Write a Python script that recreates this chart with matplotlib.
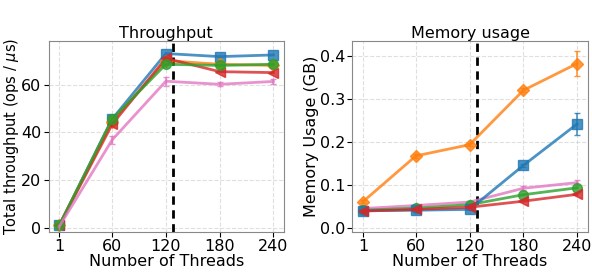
import matplotlib
matplotlib.use('Agg')
import matplotlib.pyplot as plt

threads = [1, 60, 120, 180, 240]
cores = 128

# throughput (ops / us)
tp_blue = [1.0, 45.5, 73.0, 71.7, 72.4]
tp_orange = [1.0, 44.5, 70.0, 68.5, 68.0]
tp_green = [1.0, 45.5, 68.5, 68.0, 68.5]
tp_red = [1.0, 43.3, 71.0, 65.4, 65.0]
tp_pink = [0.5, 36.8, 61.4, 60.1, 61.3]
tp_pink_err = [0.3, 1.5, 1.8, 0.9, 1.0]

# memory usage (GB)
mem_blue = [0.041, 0.042, 0.044, 0.146, 0.242]
mem_blue_err = [0.002, 0.002, 0.002, 0.004, 0.025]
mem_orange = [0.062, 0.168, 0.194, 0.320, 0.382]
mem_orange_err = [0.003, 0.004, 0.004, 0.005, 0.030]
mem_green = [0.042, 0.047, 0.055, 0.078, 0.094]
mem_red = [0.040, 0.044, 0.049, 0.063, 0.079]
mem_pink = [0.046, 0.053, 0.061, 0.093, 0.106]
mem_pink_err = [0.002, 0.002, 0.003, 0.005, 0.006]

plt.rcParams['font.size'] = 11.5
plt.rcParams['xtick.labelsize'] = 11.5
plt.rcParams['ytick.labelsize'] = 11.5

fig, (ax1, ax2) = plt.subplots(1, 2, figsize=(5.92, 2.74), dpi=100)
fig.subplots_adjust(left=0.082, right=0.993, top=0.85, bottom=0.153, wspace=0.29)

style = dict(linewidth=2, alpha=0.8, capsize=2, elinewidth=1.2)

# --- throughput ---
ax1.errorbar(threads, tp_blue, color='C0', marker='s', markersize=7, **style)
ax1.errorbar(threads, tp_orange, color='C1', marker='D', markersize=6, **style)
ax1.errorbar(threads, tp_red, color='C3', marker='<', markersize=7, **style)
ax1.errorbar(threads, tp_green, color='C2', marker='o', markersize=7, **style)
ax1.errorbar(threads, tp_pink, yerr=tp_pink_err, color='C6', marker='|', markersize=4, **style)
ax1.axvline(cores, color='black', linestyle=(0, (3, 2)), linewidth=2)
ax1.set_title('Throughput', pad=2, fontsize=11.5)
ax1.set_xlabel('Number of Threads', labelpad=0)
ax1.set_ylabel('Total throughput (ops / $\\mu$s)', labelpad=0, fontsize=10.5)
ax1.set_xticks(threads)
ax1.set_yticks([0, 20, 40, 60])
ax1.set_ylim(-1.8, 78.2)
ax1.grid(linestyle='--', alpha=0.4)

# --- memory ---
ax2.errorbar(threads, mem_orange, yerr=mem_orange_err, color='C1', marker='D', markersize=6, **style)
ax2.errorbar(threads, mem_pink, yerr=mem_pink_err, color='C6', marker='|', markersize=4, **style)
ax2.errorbar(threads, mem_green, color='C2', marker='o', markersize=7, **style)
ax2.errorbar(threads, mem_blue, yerr=mem_blue_err, color='C0', marker='s', markersize=7, **style)
ax2.errorbar(threads, mem_red, color='C3', marker='<', markersize=7, **style)
ax2.axvline(cores, color='black', linestyle=(0, (3, 2)), linewidth=2)
ax2.set_title('Memory usage', pad=2, fontsize=11.5)
ax2.set_xlabel('Number of Threads', labelpad=0)
ax2.set_ylabel('Memory Usage (GB)', labelpad=1)
ax2.set_xticks(threads)
ax2.set_yticks([0.0, 0.1, 0.2, 0.3, 0.4])
ax2.set_ylim(-0.0086, 0.434)
ax2.grid(linestyle='--', alpha=0.4)

for ax in (ax1, ax2):
    for sp in ax.spines.values():
        sp.set_color('#888888')
    ax.tick_params(pad=1.5)

fig.savefig('out.png', dpi=100)
